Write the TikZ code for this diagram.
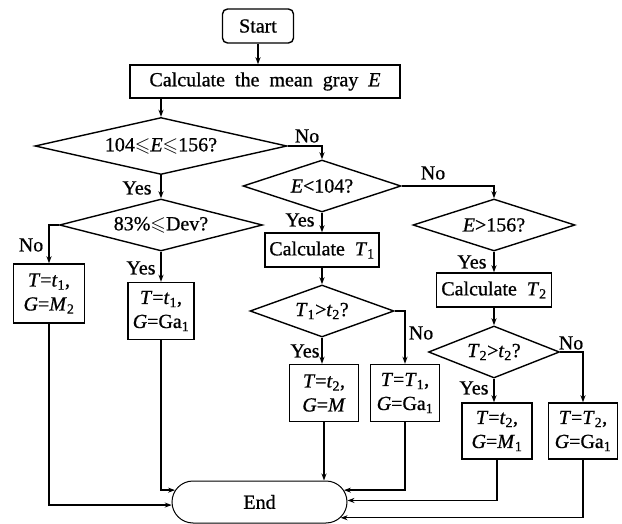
\documentclass[tikz,border=0pt]{standalone}
\usepackage{fontspec}
\usepackage{amssymb}
\setmainfont[WordSpace=2, FakeBold=0.8]{Liberation Serif}
\usetikzlibrary{shapes.geometric,shapes.misc,arrows.meta}

\begin{document}
\begin{tikzpicture}[
  x=1pt, y=-1pt,
  every node/.style={font=\fontsize{20}{24}\selectfont},
  proc/.style={draw, line width=1.4pt, align=center, inner sep=2pt},
  decision/.style={diamond, draw, line width=1.4pt, inner sep=0pt, aspect=3},
  term/.style={rounded rectangle, draw, line width=1pt, inner sep=0pt},
  arrow/.style={-{Stealth[length=7pt,width=5pt]}, line width=1.4pt},
  ans/.style={inner sep=1pt}
]
  \useasboundingbox (0,0) rectangle (622,524);

  \node[proc, rounded corners=5pt, minimum width=71pt, minimum height=34pt] (start) at (258,26) {Start};
  \node[proc, minimum width=270pt, minimum height=33pt] (mean) at (265,81.5) {Calculate the mean gray \textit{E}};

  \node[decision, minimum width=252pt, minimum height=57pt] (d1) at (161,146) {104$\leqslant$\textit{E}$\leqslant$156?};
  \node[decision, minimum width=203pt, minimum height=52pt] (d4) at (161,225) {83\%$\leqslant$Dev?};
  \node[decision, minimum width=158pt, minimum height=52pt] (d2) at (322,186) {\textit{E}<104?};
  \node[decision, minimum width=162pt, minimum height=52pt] (d3) at (494,225) {\textit{E}>156?};

  \node[proc, minimum width=114pt, minimum height=34pt] (calc1) at (322,250) {Calculate \textit{T}\textsubscript{1}};
  \node[proc, minimum width=115pt, minimum height=34pt] (calc2) at (494,290) {Calculate \textit{T}\textsubscript{2}};
  \node[decision, minimum width=144pt, minimum height=52pt] (d5) at (322,311) {\textit{T}\textsubscript{1}>\textit{t}\textsubscript{2}?};
  \node[decision, minimum width=131pt, minimum height=52pt] (d6) at (494,352) {\textit{T}\textsubscript{2}>\textit{t}\textsubscript{2}?};

  \node[proc, minimum width=71pt, minimum height=59pt] (b1) at (49,293.5) {\textit{T}=\textit{t}\textsubscript{1},\\\textit{G}=\textit{M}\textsubscript{2}};
  \node[proc, minimum width=66pt, minimum height=57pt] (b2) at (161,311) {\textit{T}=\textit{t}\textsubscript{1},\\\textit{G}=Ga\textsubscript{1}};
  \node[proc, minimum width=69pt, minimum height=57pt] (b3) at (324,393) {\textit{T}=\textit{t}\textsubscript{2},\\\textit{G}=\textit{M}};
  \node[proc, minimum width=69pt, minimum height=57pt] (b4) at (405,393) {\textit{T}=\textit{T}\textsubscript{1},\\\textit{G}=Ga\textsubscript{1}};
  \node[proc, minimum width=70pt, minimum height=56pt] (b5) at (497,431) {\textit{T}=\textit{t}\textsubscript{2},\\\textit{G}=\textit{M}\textsubscript{1}};
  \node[proc, minimum width=69pt, minimum height=56pt] (b6) at (583,431) {\textit{T}=\textit{T}\textsubscript{2},\\\textit{G}=Ga\textsubscript{1}};

  \node[term, minimum width=175pt, minimum height=42pt] (end) at (259.5,502) {End};

  \draw[arrow] (start.south) -- (start.south |- mean.north);
  \draw[arrow] (mean.south -| d1.north) -- (d1.north);
  \draw[arrow] (d1.east) -| (d2.north);
  \draw[arrow] (d1.south) -- (d4.north);
  \draw[arrow] (d2.east) -| (d3.north);
  \draw[arrow] (d2.south) -- (calc1.north);
  \draw[arrow] (d3.south) -- (calc2.north);
  \draw[arrow] (calc1.south) -- (d5.north);
  \draw[arrow] (calc2.south) -- (d6.north);
  \draw[arrow] (d4.west) -| (b1.north);
  \draw[arrow] (d4.south) -- (b2.north);
  \draw[arrow] (d5.south) -- (d5.south |- b3.north);
  \draw[arrow] (d5.east) -| (b4.north);
  \draw[arrow] (d6.south) -- (d6.south |- b5.north);
  \draw[arrow] (d6.east) -| (b6.north);

  \draw[arrow] (b1.south) |- (end.182);
  \draw[arrow] (b2.south) |- (end.172);
  \draw[arrow] (b3.south) -- (b3.south |- end.north);
  \draw[arrow] (b4.south) |- (end.8);
  \draw[arrow] (b5.south) |- (end.1);
  \draw[arrow] (b6.south) |- (end.349);

  \node[ans] at (307,136) {No};
  \node[ans] at (137,188) {Yes};
  \node[ans] at (433,173) {No};
  \node[ans] at (300,220) {Yes};
  \node[ans] at (472,262) {Yes};
  \node[ans] at (31,245) {No};
  \node[ans] at (141,268) {Yes};
  \node[ans] at (305,351) {Yes};
  \node[ans] at (421,333) {No};
  \node[ans] at (474,388) {Yes};
  \node[ans] at (571,343) {No};
\end{tikzpicture}
\end{document}
